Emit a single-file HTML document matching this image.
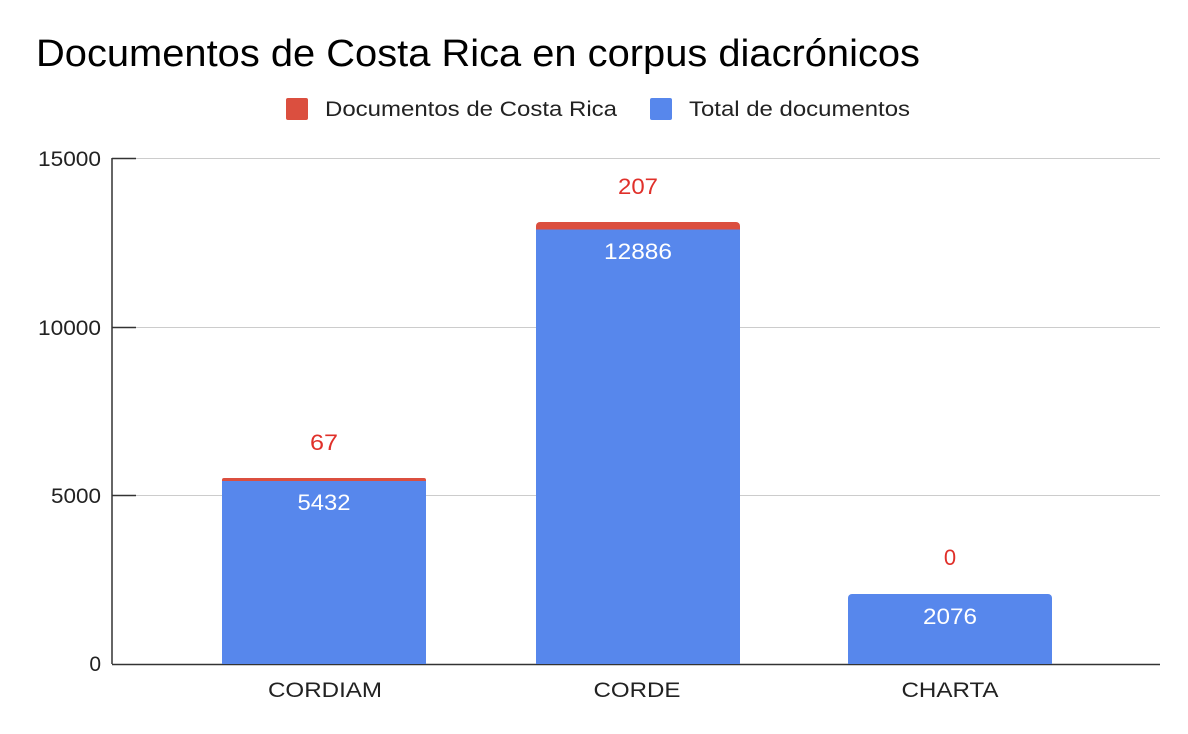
<!DOCTYPE html>
<html><head><meta charset="utf-8"><style>
body{margin:0;background:#fff;}
svg{display:block;font-family:"Liberation Sans",Arial,sans-serif;}
</style></head><body>
<svg width="1188" height="734" viewBox="0 0 1188 734">
<rect width="1188" height="734" fill="#fff"/>
<text x="36" y="66" font-size="38" fill="#000" textLength="884" lengthAdjust="spacingAndGlyphs">Documentos de Costa Rica en corpus diacrónicos</text>
<rect x="286" y="98" width="22" height="22" rx="2" fill="#db4f3f"/>
<text x="325" y="116" font-size="21" fill="#222" textLength="292" lengthAdjust="spacingAndGlyphs">Documentos de Costa Rica</text>
<rect x="650" y="98" width="22" height="22" rx="2" fill="#5787ec"/>
<text x="689" y="116" font-size="21" fill="#222" textLength="221" lengthAdjust="spacingAndGlyphs">Total de documentos</text>
<g stroke="#ccc" stroke-width="1">
<line x1="112" y1="158.5" x2="1160" y2="158.5"/>
<line x1="112" y1="327.5" x2="1160" y2="327.5"/>
<line x1="112" y1="495.5" x2="1160" y2="495.5"/>
</g>
<g stroke="#333" stroke-width="1.5">
<line x1="112" y1="158" x2="112" y2="664"/>
<line x1="112" y1="664.5" x2="1160" y2="664.5"/>
<line x1="112" y1="158.5" x2="136" y2="158.5"/>
<line x1="112" y1="327.5" x2="136" y2="327.5"/>
<line x1="112" y1="495.5" x2="136" y2="495.5"/>
</g>
<g font-size="21" fill="#222" text-anchor="end">
<text x="101" y="166" textLength="63" lengthAdjust="spacingAndGlyphs">15000</text>
<text x="101" y="335" textLength="63" lengthAdjust="spacingAndGlyphs">10000</text>
<text x="101" y="503" textLength="50" lengthAdjust="spacingAndGlyphs">5000</text>
<text x="101" y="671">0</text>
</g>
<path d="M222,664 V481 H426 V664 Z" fill="#5787ec"/>
<path d="M222,481 V480 a2,2 0 0 1 2,-2 H424 a2,2 0 0 1 2,2 V481 Z" fill="#db4f3f"/>
<path d="M536,664 V229.5 H740 V664 Z" fill="#5787ec"/>
<path d="M536,229.5 V226 a4,4 0 0 1 4,-4 H736 a4,4 0 0 1 4,4 V229.5 Z" fill="#db4f3f"/>
<path d="M848,664 V598 a4,4 0 0 1 4,-4 H1048 a4,4 0 0 1 4,4 V664 Z" fill="#5787ec"/>
<g font-size="22" text-anchor="middle">
<text x="324" y="510" fill="#fff" textLength="53" lengthAdjust="spacingAndGlyphs">5432</text>
<text x="638" y="259" fill="#fff" textLength="68" lengthAdjust="spacingAndGlyphs">12886</text>
<text x="950" y="624" fill="#fff" textLength="54" lengthAdjust="spacingAndGlyphs">2076</text>
<text x="324" y="450" fill="#e0302a" textLength="28" lengthAdjust="spacingAndGlyphs">67</text>
<text x="638" y="194" fill="#e0302a" textLength="40" lengthAdjust="spacingAndGlyphs">207</text>
<text x="950" y="565" fill="#e0302a">0</text>
</g>
<g font-size="21" fill="#222" text-anchor="middle">
<text x="325" y="697" textLength="114" lengthAdjust="spacingAndGlyphs">CORDIAM</text>
<text x="637" y="697" textLength="87" lengthAdjust="spacingAndGlyphs">CORDE</text>
<text x="950" y="697" textLength="97" lengthAdjust="spacingAndGlyphs">CHARTA</text>
</g>
</svg>
</body></html>
